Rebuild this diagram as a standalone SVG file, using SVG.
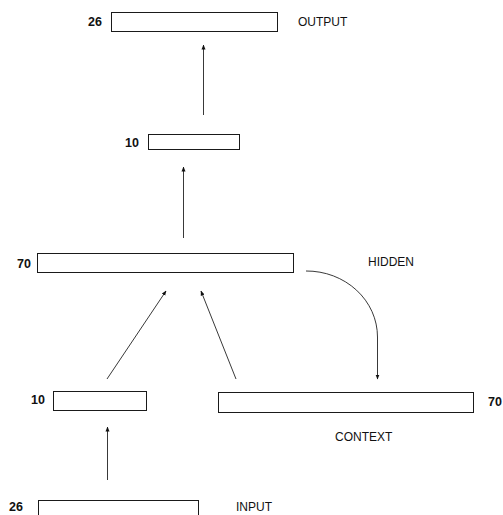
<svg xmlns="http://www.w3.org/2000/svg" width="503" height="515" viewBox="0 0 503 515">
  <style>
    .box { fill: #ffffff; stroke: #1a1a1a; stroke-width: 1; }
    .num { font-family: "Liberation Sans", Arial, sans-serif; font-size: 12.5px; font-weight: bold; fill: #111; }
    .lbl { font-family: "Liberation Sans", Arial, sans-serif; font-size: 12px; fill: #111; }
    .link { fill: none; stroke: #222; stroke-width: 0.9; marker-end: url(#head); }
  </style>
  <defs>
    <marker id="head" viewBox="0 0 10 10" refX="9" refY="5" markerWidth="5" markerHeight="5" markerUnits="userSpaceOnUse" orient="auto">
      <path d="M0,1 L10,5 L0,9 Z" fill="#111"/>
    </marker>
  </defs>
  <rect width="503" height="515" fill="#ffffff"/>

  <g id="output">
    <rect class="box" x="111.5" y="12.5" width="166" height="19"/>
    <text class="num" x="102" y="26" text-anchor="end">26</text>
    <text class="lbl" x="298" y="26">OUTPUT</text>
  </g>

  <g id="layer10-upper">
    <rect class="box" x="148.5" y="134.5" width="91" height="15"/>
    <text class="num" x="139" y="147" text-anchor="end">10</text>
  </g>

  <g id="hidden">
    <rect class="box" x="37.5" y="253.5" width="256" height="19"/>
    <text class="num" x="31" y="268" text-anchor="end">70</text>
    <text class="lbl" x="368" y="266">HIDDEN</text>
  </g>

  <g id="layer10-lower">
    <rect class="box" x="53.5" y="391.5" width="93" height="19"/>
    <text class="num" x="45" y="404" text-anchor="end">10</text>
  </g>

  <g id="context">
    <rect class="box" x="218.5" y="392.5" width="255" height="20"/>
    <text class="num" x="488" y="406">70</text>
    <text class="lbl" x="335" y="441">CONTEXT</text>
  </g>

  <g id="input">
    <rect class="box" x="38.5" y="500.5" width="160" height="20"/>
    <text class="num" x="23" y="511" text-anchor="end">26</text>
    <text class="lbl" x="236" y="511">INPUT</text>
  </g>

  <g id="connectors">
    <line class="link" x1="203.5" y1="115" x2="203.5" y2="45"/>
    <line class="link" x1="183.5" y1="238" x2="183.5" y2="167"/>
    <line class="link" x1="107" y1="379" x2="166" y2="291"/>
    <line class="link" x1="236" y1="379" x2="201" y2="291"/>
    <line class="link" x1="107.5" y1="480" x2="107.5" y2="427"/>
    <path class="link" d="M306,271 A71,66 0 0 1 377.5,337 L377.5,379"/>
  </g>
</svg>
